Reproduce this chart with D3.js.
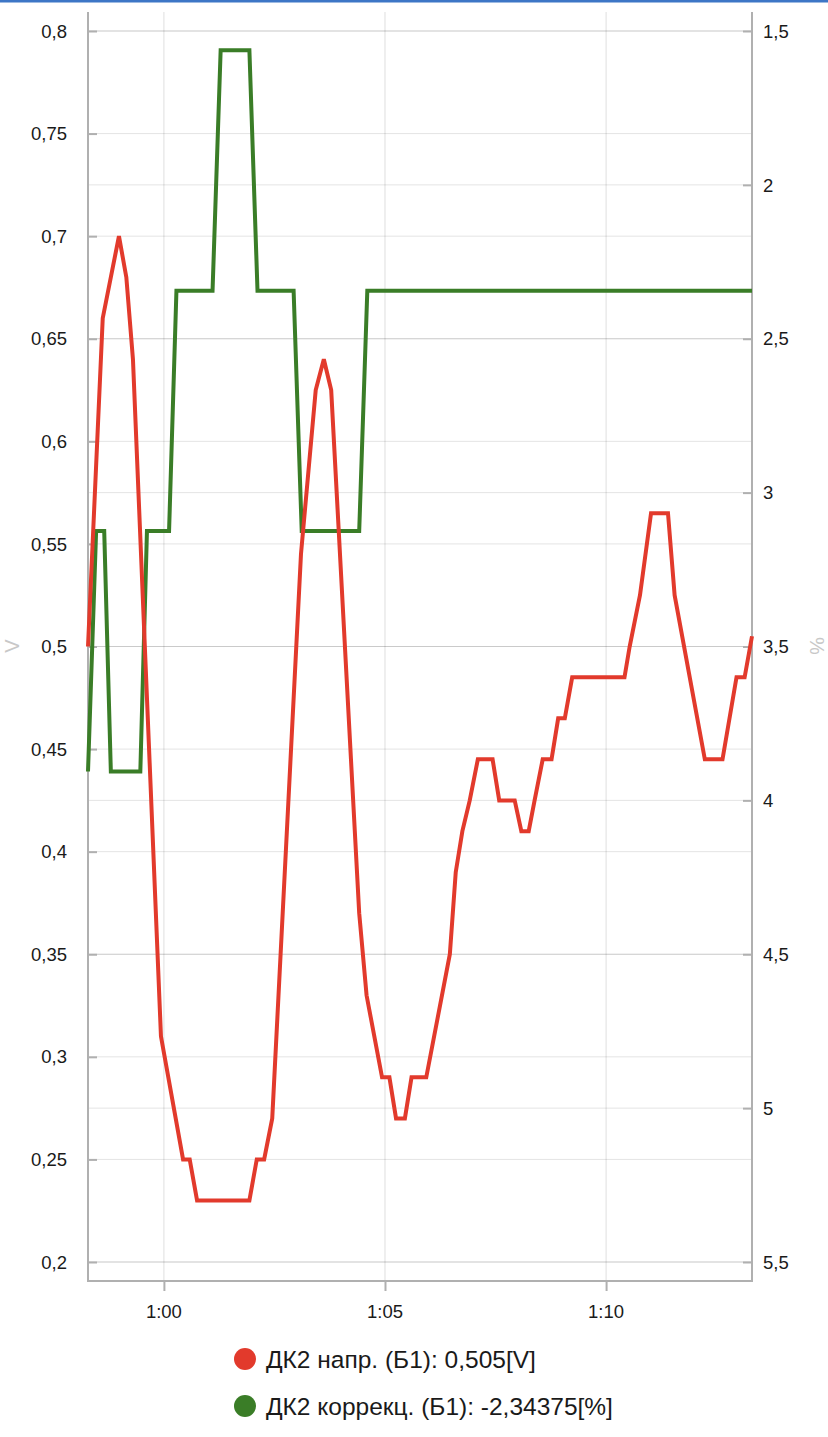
<!DOCTYPE html>
<html>
<head>
<meta charset="utf-8">
<script src="https://cdn.jsdelivr.net/npm/d3@7"></script>
<style>
  html, body { margin: 0; padding: 0; background: #fff; }
  svg { display: block; }
  text { font-family: "Liberation Sans", Arial, Helvetica, sans-serif; }
</style>
</head>
<body>
<svg id="chart" width="828" height="1437"></svg>
<script>
// ---------- data ----------
const redTimes = ["0:58:17","0:58:37","0:58:59","0:59:09","0:59:18","0:59:56","1:00:26","1:00:35","1:00:45","1:01:56",
  "1:02:06","1:02:16","1:02:27","1:03:06","1:03:26","1:03:37","1:03:47","1:04:25","1:04:35","1:04:56",
  "1:05:06","1:05:15","1:05:27","1:05:36","1:05:56","1:06:28","1:06:36","1:06:45","1:06:55","1:07:06",
  "1:07:26","1:07:35","1:07:56","1:08:05","1:08:15","1:08:23","1:08:34","1:08:46","1:08:55","1:09:04",
  "1:09:14","1:10:25","1:10:32","1:10:46","1:11:01","1:11:24","1:11:33","1:12:14","1:12:38","1:12:57",
  "1:13:08","1:13:18"];
const redValues = [0.50,0.66,0.70,0.68,0.64,0.31,0.25,0.25,0.23,0.23,
  0.25,0.25,0.27,0.545,0.625,0.64,0.625,0.37,0.33,0.29,
  0.29,0.27,0.27,0.29,0.29,0.35,0.39,0.41,0.425,0.445,
  0.445,0.425,0.425,0.41,0.41,0.425,0.445,0.445,0.465,0.465,
  0.485,0.485,0.50,0.525,0.565,0.565,0.525,0.445,0.445,0.485,
  0.485,0.505];

const greenTimes = ["0:58:17","0:58:28","0:58:39","0:58:48","0:59:28","0:59:37","1:00:07","1:00:17","1:01:06","1:01:17",
  "1:01:56","1:02:07","1:02:56","1:03:07","1:04:25","1:04:36","1:13:18"];
const greenValues = [-3.90625,-3.125,-3.125,-3.90625,-3.90625,-3.125,-3.125,-2.34375,-2.34375,-1.5625,
  -1.5625,-2.34375,-2.34375,-3.125,-3.125,-2.34375,-2.34375];

const leftTicks = [0.2,0.25,0.3,0.35,0.4,0.45,0.5,0.55,0.6,0.65,0.7,0.75,0.8];
const rightTicks = [-5.5,-5,-4.5,-4,-3.5,-3,-2.5,-2,-1.5];
const xTickLabels = ["1:00","1:05","1:10"];

const legendLabels = ["ДК2 напр. (Б1): 0,505[V]", "ДК2 коррекц. (Б1): -2,34375[%]"];
const leftTitle = "V";
const rightTitle = "%";

// ---------- setup ----------
const redColor = "#e23a2c", greenColor = "#3a7d27";
const axisColor = "#b0b0b0";
const svg = d3.select("#chart");
const parseT = d3.timeParse("%H:%M:%S");
const parseTick = d3.timeParse("%H:%M");
const loc = d3.formatLocale({decimal: ",", thousands: " ", grouping: [3], currency: ["", ""]});
const fmt = loc.format("~g");

const red = redTimes.map((t, i) => ({t: parseT(t), v: redValues[i]}));
const green = greenTimes.map((t, i) => ({t: parseT(t), v: greenValues[i]}));

const left = 88, right = 752, plotTop = 12, plotBottom = 1281;
const x = d3.scaleTime()
  .domain(d3.extent(red.concat(green), d => d.t))
  .range([left, right]);
const yL = d3.scaleLinear().domain([0.2, 0.8]).range([1262, 31]);
const yR = d3.scaleLinear().domain([-5.5, -1.5]).range([1262, 31]);

// top blue bar
svg.append("rect").attr("x", 0).attr("y", 0).attr("width", 828).attr("height", 2.5).attr("fill", "#3d76c6");

// grid
const grid = svg.append("g");
grid.selectAll("line.gl").data(leftTicks).join("line")
  .attr("x1", left).attr("x2", right)
  .attr("y1", d => yL(d)).attr("y2", d => yL(d))
  .attr("stroke", "#000").attr("stroke-opacity", 0.11).attr("stroke-width", 1);
grid.selectAll("line.gr").data(rightTicks).join("line")
  .attr("x1", left).attr("x2", right)
  .attr("y1", d => yR(d)).attr("y2", d => yR(d))
  .attr("stroke", "#000").attr("stroke-opacity", 0.11).attr("stroke-width", 1);
grid.selectAll("line.gx").data(xTickLabels).join("line")
  .attr("x1", d => x(parseTick(d))).attr("x2", d => x(parseTick(d)))
  .attr("y1", plotTop).attr("y2", plotBottom)
  .attr("stroke", "#000").attr("stroke-opacity", 0.13).attr("stroke-width", 1);

// axes using d3 axis generators
const axL = svg.append("g").attr("transform", `translate(${left},0)`)
  .call(d3.axisRight(yL).tickValues(leftTicks).tickSize(9).tickFormat(() => ""));
const axR = svg.append("g").attr("transform", `translate(${right},0)`)
  .call(d3.axisLeft(yR).tickValues(rightTicks).tickSize(9).tickFormat(() => ""));
const axB = svg.append("g").attr("transform", `translate(0,${plotBottom})`)
  .call(d3.axisBottom(x).tickValues(xTickLabels.map(parseTick)).tickSize(10).tickFormat(() => ""));
[axL, axR, axB].forEach(g => {
  g.select(".domain").remove();
  g.selectAll(".tick line").attr("stroke", axisColor).attr("stroke-width", 2);
});

// axis lines
svg.append("line").attr("x1", left).attr("x2", left).attr("y1", plotTop).attr("y2", plotBottom + 1)
  .attr("stroke", axisColor).attr("stroke-width", 2);
svg.append("line").attr("x1", right).attr("x2", right).attr("y1", plotTop).attr("y2", plotBottom + 1)
  .attr("stroke", axisColor).attr("stroke-width", 2);
svg.append("line").attr("x1", left - 1).attr("x2", right + 1).attr("y1", plotBottom).attr("y2", plotBottom)
  .attr("stroke", axisColor).attr("stroke-width", 2);

// tick labels
const tickFont = 18.5;
svg.append("g").selectAll("text").data(leftTicks).join("text")
  .attr("x", 67).attr("y", d => yL(d)).attr("dy", "0.36em")
  .attr("text-anchor", "end").attr("font-size", tickFont).attr("fill", "#1a1a1a")
  .text(d => fmt(d));
svg.append("g").selectAll("text").data(rightTicks).join("text")
  .attr("x", 763).attr("y", d => yR(d)).attr("dy", "0.36em")
  .attr("text-anchor", "start").attr("font-size", tickFont).attr("fill", "#1a1a1a")
  .text(d => fmt(Math.abs(d)));
svg.append("g").selectAll("text").data(xTickLabels).join("text")
  .attr("x", d => x(parseTick(d))).attr("y", 1318)
  .attr("text-anchor", "middle").attr("font-size", tickFont).attr("fill", "#1a1a1a")
  .text(d => d);

// axis titles
svg.append("text").attr("transform", "translate(19,646) rotate(-90)")
  .attr("text-anchor", "middle").attr("font-size", 20).attr("fill", "#c8c8c8").text(leftTitle);
svg.append("text").attr("transform", "translate(810,646) rotate(90)")
  .attr("text-anchor", "middle").attr("font-size", 20).attr("fill", "#c8c8c8").text(rightTitle);

// lines
const lineL = d3.line().x(d => x(d.t)).y(d => yL(d.v));
const lineR = d3.line().x(d => x(d.t)).y(d => yR(d.v));
svg.append("path").datum(green).attr("d", lineR)
  .attr("fill", "none").attr("stroke", greenColor).attr("stroke-width", 4).attr("stroke-linejoin", "miter");
svg.append("path").datum(red).attr("d", lineL)
  .attr("fill", "none").attr("stroke", redColor).attr("stroke-width", 4).attr("stroke-linejoin", "miter");

// legend
const lg = svg.append("g");
const legendColors = [redColor, greenColor];
legendLabels.forEach((lab, i) => {
  const cy = 1359 + i * 47;
  lg.append("circle").attr("cx", 245).attr("cy", cy).attr("r", 11).attr("fill", legendColors[i]);
  lg.append("text").attr("x", 266).attr("y", cy).attr("dy", "0.36em")
    .attr("font-size", 24.5).attr("fill", "#1a1a1a").text(lab);
});
</script>
</body>
</html>
